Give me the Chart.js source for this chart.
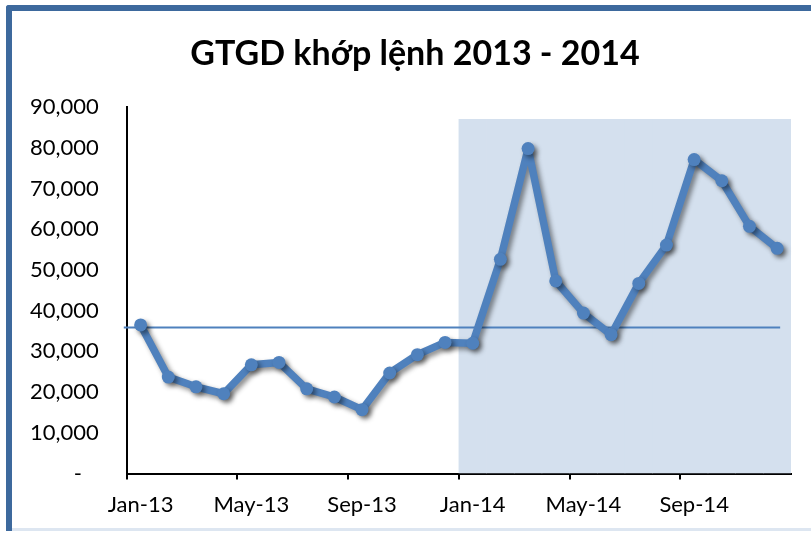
<!DOCTYPE html>
<html lang="vi">
<head>
<meta charset="UTF-8" />
<title>GTGD khớp lệnh 2013 - 2014</title>
<script src="https://cdn.jsdelivr.net/npm/chart.js"></script>
<style>
  body { margin: 0; background: #fff; }
  .wrap { position: relative; width: 811px; height: 533px; overflow: hidden; }
  .frame {
    position: absolute; left: 6px; top: 5px; width: 900px; height: 526px;
    border-left: 6px solid #3d699d; border-top: 6px solid #3d699d;
    border-top-left-radius: 3px; box-sizing: border-box; pointer-events: none;
  }
  .base { position: absolute; left: 12px; right: 0; top: 528px; height: 3px; background: #dde6f1; }
  h1 {
    position: absolute; left: 0; width: 830px; top: 31px; margin: 0;
    text-align: center; font: bold 34px Lato, sans-serif; line-height: 42px; color: #000;
  }
  canvas { position: absolute; left: 0; top: 0; }
</style>
</head>
<body>
<div class="wrap">
  <canvas id="chart" width="811" height="533"></canvas>
  <h1>GTGD khớp lệnh 2013 - 2014</h1>
  <div class="frame"></div>
  <div class="base"></div>
</div>
<script>
  // months Jan-13 .. Dec-14
  const months = ['Jan-13','Feb-13','Mar-13','Apr-13','May-13','Jun-13','Jul-13','Aug-13','Sep-13','Oct-13','Nov-13','Dec-13',
                  'Jan-14','Feb-14','Mar-14','Apr-14','May-14','Jun-14','Jul-14','Aug-14','Sep-14','Oct-14','Nov-14','Dec-14'];
  const gtgd = [36500, 23700, 21300, 19600, 26700, 27300, 20800, 18800, 15700, 24700, 29200, 32200,
                32000, 52600, 79800, 47300, 39400, 34100, 46700, 56100, 77100, 71900, 60700, 55300];
  // highlighted 2014 block
  const shade = [null, null, null, null, null, null, null, null, null, null, null, null,
                 87000, 87000, 87000, 87000, 87000, 87000, 87000, 87000, 87000, 87000, 87000, 87000];
  const avgValue = 36000;
  const yTicks = [0, 10000, 20000, 30000, 40000, 50000, 60000, 70000, 80000, 90000];

  const blue = '#4f81bd';

  const shadowPlugin = {
    id: 'shadow',
    beforeDatasetDraw(chart, args) {
      if (args.index !== 0) return;
      const ctx = chart.ctx;
      ctx.save();
      ctx.shadowColor = 'rgba(0,0,0,0.45)';
      ctx.shadowBlur = 5;
      ctx.shadowOffsetX = 3;
      ctx.shadowOffsetY = 3;
    },
    afterDatasetDraw(chart, args) {
      if (args.index === 0) {
        chart.ctx.restore();
        return;
      }
      // average line sits above the shaded block, under the series
      const x = chart.scales.x, y = chart.scales.y, ctx = chart.ctx;
      const yy = Math.round(y.getPixelForValue(avgValue)) + 0.5;
      ctx.save();
      ctx.strokeStyle = blue;
      ctx.lineWidth = 2;
      ctx.beginPath();
      ctx.moveTo(chart.chartArea.left - 3, yy);
      ctx.lineTo(x.getPixelForValue(months.length - 1) + 3, yy);
      ctx.stroke();
      ctx.restore();
    }
  };

  new Chart(document.getElementById('chart'), {
    data: {
      labels: months,
      datasets: [
        {
          type: 'line',
          data: gtgd,
          order: 1,
          borderColor: blue,
          borderWidth: 7.5,
          borderCapStyle: 'round',
          borderJoinStyle: 'round',
          pointRadius: 6.5,
          pointBackgroundColor: blue,
          pointBorderWidth: 0,
          tension: 0
        },
        {
          type: 'bar',
          data: shade,
          order: 2,
          backgroundColor: '#d4e0ee',
          barPercentage: 1,
          categoryPercentage: 1
        }
      ]
    },
    options: {
      responsive: false,
      animation: false,
      layout: { padding: { top: 107, left: 2, right: 20, bottom: 3 } },
      plugins: {
        legend: { display: false },
        tooltip: { enabled: false },
        title: { display: false }
      },
      scales: {
        x: {
          offset: true,
          grid: {
            offset: true,
            drawOnChartArea: false,
            drawTicks: true,
            tickLength: 6,
            lineWidth: 2,
            color: ctx => ctx.index % 4 === 0 ? '#000' : 'rgba(0,0,0,0)'
          },
          border: { color: '#000', width: 2 },
          ticks: {
            autoSkip: false,
            maxRotation: 0,
            padding: 12,
            color: '#000',
            font: { family: 'Lato', size: 22 },
            callback: (v, i) => i % 4 === 0 ? months[i] : ''
          }
        },
        y: {
          min: 0,
          max: 90000,
          afterBuildTicks: axis => { axis.ticks = yTicks.map(v => ({ value: v })); },
          grid: { display: true, drawOnChartArea: false, drawTicks: false },
          border: { color: '#000', width: 2 },
          ticks: {
            padding: 28,
            color: '#000',
            font: { family: 'Lato', size: 22 },
            callback: v => v === 0 ? '-   ' : v.toLocaleString('en-US')
          }
        }
      }
    },
    plugins: [shadowPlugin]
  });
</script>
</body>
</html>
